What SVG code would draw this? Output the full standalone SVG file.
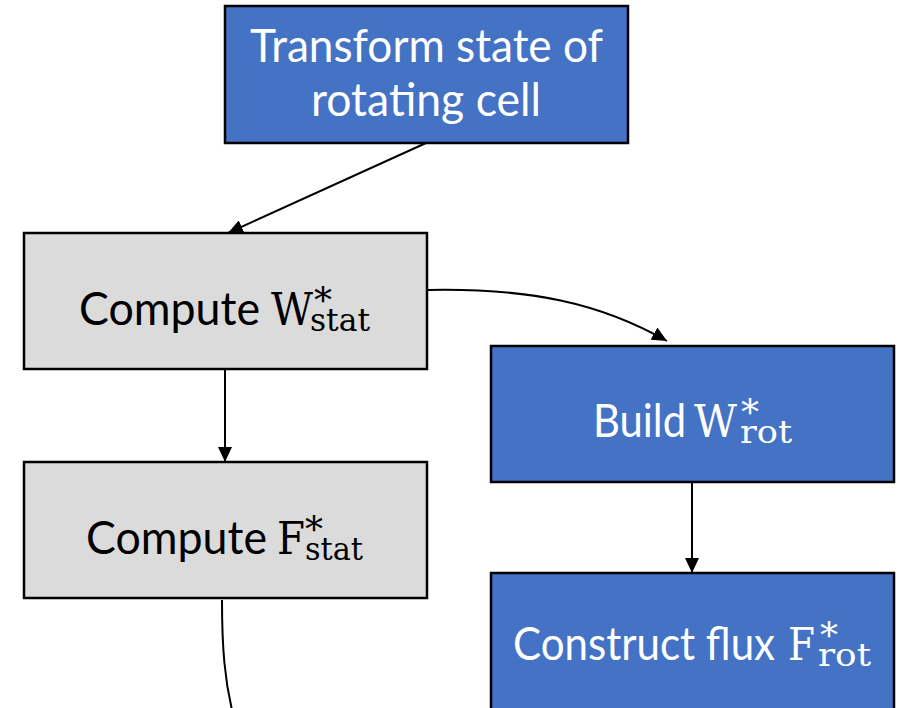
<svg xmlns="http://www.w3.org/2000/svg" width="903" height="708" viewBox="0 0 903 708">
<style>
.box{stroke:#000;stroke-width:2.5}
.blue{fill:#4472C4}
.gray{fill:#DBDBDB}
.t{font-family:Lato,"Open Sans","Liberation Sans",sans-serif;font-size:46px}
.m{font-family:"DejaVu Serif","Liberation Serif",serif;font-size:44px}
.sup{font-family:"DejaVu Serif","Liberation Serif",serif;font-size:36px}
.sub{font-family:"DejaVu Serif","Liberation Serif",serif;font-size:32px}
.w{fill:#fff}
.k{fill:#000}
.c{fill:none;stroke:#000;stroke-width:2}
</style>
<defs>
<marker id="ah" markerUnits="userSpaceOnUse" markerWidth="16" markerHeight="14" refX="15" refY="7" orient="auto">
<path d="M0,0 L15,7 L0,14 Z" fill="#000"/>
</marker>
</defs>
<rect width="903" height="708" fill="#fff"/>
<g id="n-transform">
<rect class="box blue" x="225" y="6" width="403" height="137"/>
<text class="t w" x="426.5" y="62" text-anchor="middle" textLength="353" lengthAdjust="spacingAndGlyphs">Transform state of</text>
<text class="t w" x="426" y="116" text-anchor="middle" textLength="230" lengthAdjust="spacingAndGlyphs">rotating cell</text>
</g>
<g id="n-computeW">
<rect class="box gray" x="24" y="233" width="403" height="136"/>
<text class="k"><tspan class="t" x="79" y="325" textLength="181" lengthAdjust="spacingAndGlyphs">Compute</tspan><tspan class="m" x="271" y="325" textLength="42" lengthAdjust="spacingAndGlyphs">W</tspan><tspan class="sup" x="314" y="313">*</tspan><tspan class="sub" x="310" y="331" textLength="60" lengthAdjust="spacingAndGlyphs">stat</tspan></text>
</g>
<g id="n-computeF">
<rect class="box gray" x="24" y="462" width="403" height="136"/>
<text class="k"><tspan class="t" x="86" y="554" textLength="181" lengthAdjust="spacingAndGlyphs">Compute</tspan><tspan class="m" x="277" y="554" textLength="28" lengthAdjust="spacingAndGlyphs">F</tspan><tspan class="sup" x="305" y="542">*</tspan><tspan class="sub" x="305" y="560" textLength="58" lengthAdjust="spacingAndGlyphs">stat</tspan></text>
</g>
<g id="n-buildW">
<rect class="box blue" x="491" y="346" width="403" height="136"/>
<text class="w"><tspan class="t" x="593" y="437" textLength="93" lengthAdjust="spacingAndGlyphs">Build</tspan><tspan class="m" x="694" y="437" textLength="43" lengthAdjust="spacingAndGlyphs">W</tspan><tspan class="sup" x="741" y="425">*</tspan><tspan class="sub" x="740" y="443" textLength="52" lengthAdjust="spacingAndGlyphs">rot</tspan></text>
</g>
<g id="n-constructF">
<rect class="box blue" x="491" y="573" width="403" height="137"/>
<text class="w"><tspan class="t" x="513" y="660" textLength="262" lengthAdjust="spacingAndGlyphs">Construct flux</tspan><tspan class="m" x="788" y="660" textLength="27" lengthAdjust="spacingAndGlyphs">F</tspan><tspan class="sup" x="820" y="648">*</tspan><tspan class="sub" x="818" y="666" textLength="53" lengthAdjust="spacingAndGlyphs">rot</tspan></text>
</g>
<g id="connectors">
<path class="c" d="M426,143 L228,233" marker-end="url(#ah)"/>
<path class="c" d="M428,290 C530,288 600,303 667,341" marker-end="url(#ah)"/>
<path class="c" d="M225,369 L225,462" marker-end="url(#ah)"/>
<path class="c" d="M692,482 L692,573" marker-end="url(#ah)"/>
<path class="c" d="M222,600 C222,650 225,680 232,710"/>
</g>
</svg>
